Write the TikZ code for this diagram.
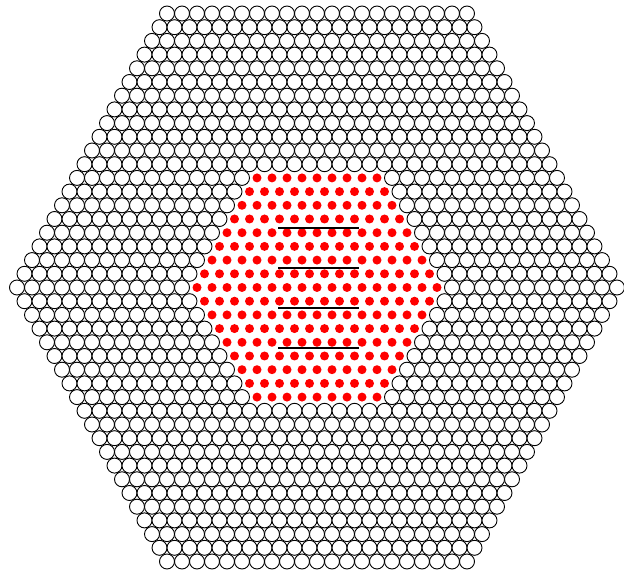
\documentclass[tikz,border=0pt]{standalone}
\begin{document}
\begin{tikzpicture}[x=1pt,y=-1pt,
  cell/.style={draw=black, line width=0.9pt, fill=white},
  reddot/.style={fill=red, draw=none},
  bar/.style={line width=2.3pt, draw=black}]
\useasboundingbox (0,0) rectangle (624,577);
\foreach \k in {-20,...,20} {
  \pgfmathtruncatemacro\nn{40-abs(\k)}
  \foreach \j in {0,...,\nn} {
    \pgfmathsetmacro\u{\j-\nn/2}
    \pgfmathtruncatemacro\isred{(abs(\k)<=8)&&(abs(\u)<=(16-abs(\k))/2)}
    \pgfmathsetmacro\px{317+15*\u}
    \pgfmathsetmacro\py{287.5+13.7*\k}
    \ifnum\isred=1
      \path[reddot] (\px,\py) circle (4.5pt);
    \else
      \path[cell] (\px,\py) circle (7.5pt);
    \fi
  }
}
\coordinate (l1a) at (278,227.7); \coordinate (l1b) at (359,227.7);
\coordinate (l2a) at (278,267.7); \coordinate (l2b) at (359,267.7);
\coordinate (l3a) at (278,308.0); \coordinate (l3b) at (359,308.0);
\coordinate (l4a) at (278,348.3); \coordinate (l4b) at (359,348.3);
\draw[bar] (l1a) -- (l1b);
\draw[bar] (l2a) -- (l2b);
\draw[bar] (l3a) -- (l3b);
\draw[bar] (l4a) -- (l4b);
\end{tikzpicture}
\end{document}
